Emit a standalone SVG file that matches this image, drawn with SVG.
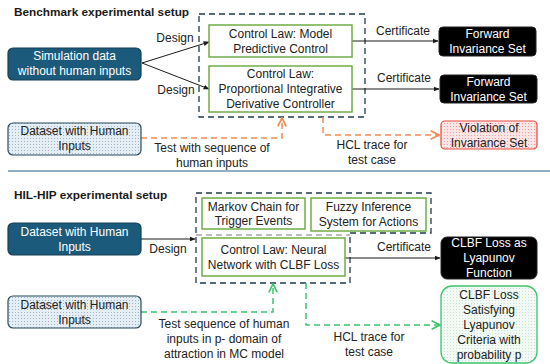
<svg xmlns="http://www.w3.org/2000/svg" width="550" height="364" viewBox="0 0 550 364">
  <style>
    text { font-family: "Liberation Sans", Arial, sans-serif; font-size: 12px; fill: #222; text-anchor: middle; }
    .title { font-weight: bold; font-size: 11.8px; fill: #1a1a1a; text-anchor: start; }
    .wt { fill: #ffffff; }
    .dark { fill: #1b5a7a; stroke: #163f55; stroke-width: 1.2; }
    .black { fill: #000000; stroke: #222; stroke-width: 1; }
    .law { fill: #ffffff; stroke: #70ad47; stroke-width: 1.5; }
    .dotted { fill: url(#dotsBlue); stroke: #2a4a5e; stroke-width: 1.2; }
    .frame { fill: none; stroke: #1f3b4d; stroke-width: 1.3; stroke-dasharray: 6 4; }
    .solid { fill: none; stroke: #1a1a1a; stroke-width: 1; }
    .orange { fill: none; stroke: #f08a50; stroke-width: 1.5; stroke-dasharray: 6 4; }
    .green { fill: none; stroke: #3ec46e; stroke-width: 1.5; stroke-dasharray: 6 4; }
  </style>
  <defs>
    <pattern id="dotsBlue" width="3" height="3" patternUnits="userSpaceOnUse">
      <rect width="3" height="3" fill="#e4eef4"/>
      <rect width="1" height="1" fill="#9fb4c2"/>
    </pattern>
    <pattern id="dotsRed" width="3" height="3" patternUnits="userSpaceOnUse">
      <rect width="3" height="3" fill="#fbe5e5"/>
      <rect width="1" height="1" fill="#f2a0a0"/>
    </pattern>
    <pattern id="dotsGreen" width="3" height="3" patternUnits="userSpaceOnUse">
      <rect width="3" height="3" fill="#f3faf5"/>
      <rect width="1" height="1" fill="#c6e4cf"/>
    </pattern>
    <marker id="arrBlack" viewBox="0 0 10 10" refX="9" refY="5" markerWidth="6" markerHeight="6" orient="auto">
      <path d="M0,1 L10,5 L0,9 z" fill="#1a1a1a"/>
    </marker>
    <marker id="arrOrange" viewBox="0 0 10 10" refX="8" refY="5" markerWidth="7" markerHeight="7" orient="auto">
      <path d="M1,1 L9,5 L1,9" fill="none" stroke="#f08a50" stroke-width="1.6"/>
    </marker>
    <marker id="arrGreen" viewBox="0 0 10 10" refX="8" refY="5" markerWidth="7" markerHeight="7" orient="auto">
      <path d="M1,1 L9,5 L1,9" fill="none" stroke="#3ec46e" stroke-width="1.6"/>
    </marker>
  </defs>

  <rect width="550" height="364" fill="#ffffff"/>

  <!-- Benchmark section -->
  <text class="title" x="14" y="16">Benchmark experimental setup</text>
  <rect class="frame" x="199" y="14" width="166" height="103"/>

  <!-- HIL-HIP section -->
  <line x1="8" y1="171" x2="550" y2="171" stroke="#8fb0c2" stroke-width="2"/>
  <text class="title" x="14" y="199">HIL-HIP experimental setup</text>
  <path class="frame" d="M196,193 H431 V233 H350 V283 H196 Z"/>
  <line x1="196" y1="235" x2="350" y2="235" stroke="#a8a8a8" stroke-width="1.3" stroke-dasharray="6 4"/>

  <!-- connectors -->
  <g id="connectors">
    <line class="solid" x1="142" y1="63" x2="209" y2="42" marker-end="url(#arrBlack)"/>
    <line class="solid" x1="142" y1="63" x2="209" y2="89" marker-end="url(#arrBlack)"/>
    <text x="175" y="42">Design</text>
    <text x="176" y="94">Design</text>

    <line class="solid" x1="352" y1="41" x2="438" y2="41" marker-end="url(#arrBlack)"/>
    <text x="403" y="35">Certificate</text>
    <line class="solid" x1="352" y1="89" x2="439" y2="89" marker-end="url(#arrBlack)"/>
    <text x="404" y="82">Certificate</text>

    <path class="orange" d="M141,138 H282 V119" marker-end="url(#arrOrange)"/>
    <text x="212" y="152">Test with sequence of</text>
    <text x="212" y="167">human inputs</text>

    <path class="orange" d="M323,117 V135 H438" marker-end="url(#arrOrange)"/>
    <text x="372" y="149">HCL trace for</text>
    <text x="372" y="164">test case</text>

    <line class="solid" x1="141" y1="239" x2="195" y2="239" marker-end="url(#arrBlack)"/>
    <text x="168" y="253">Design</text>

    <line class="solid" x1="345" y1="258" x2="440" y2="258" marker-end="url(#arrBlack)"/>
    <text x="404" y="251">Certificate</text>

    <path class="green" d="M141,312 H273 V285" marker-end="url(#arrGreen)"/>
    <text x="224" y="328">Test sequence of human</text>
    <text x="224" y="343">inputs in p- domain of</text>
    <text x="224" y="358">attraction in MC model</text>

    <path class="green" d="M306,283 V325 H439" marker-end="url(#arrGreen)"/>
    <text x="369" y="341">HCL trace for</text>
    <text x="369" y="356">test case</text>
  </g>

  <!-- nodes: benchmark -->
  <g id="sim-data">
    <rect class="dark" x="8" y="48" width="133" height="32" rx="5"/>
    <text class="wt" x="74.5" y="60">Simulation data</text>
    <text class="wt" x="74.5" y="75">without human inputs</text>
  </g>
  <g id="mpc">
    <rect class="law" x="209" y="25" width="143" height="32"/>
    <text x="280.5" y="38">Control Law: Model</text>
    <text x="280.5" y="53">Predictive Control</text>
  </g>
  <g id="pid">
    <rect class="law" x="209" y="66" width="143" height="46"/>
    <text x="280.5" y="78">Control Law:</text>
    <text x="280.5" y="93">Proportional Integrative</text>
    <text x="280.5" y="108">Derivative Controller</text>
  </g>
  <g id="human-data-1">
    <rect class="dotted" x="8" y="123" width="133" height="32" rx="5"/>
    <text x="74.5" y="135">Dataset with Human</text>
    <text x="74.5" y="150">Inputs</text>
  </g>
  <g id="fis-1">
    <rect class="black" x="439" y="27" width="97" height="29" rx="4"/>
    <text class="wt" x="487.5" y="38">Forward</text>
    <text class="wt" x="487.5" y="53">Invariance Set</text>
  </g>
  <g id="fis-2">
    <rect class="black" x="440" y="75" width="97" height="28" rx="4"/>
    <text class="wt" x="488.5" y="86">Forward</text>
    <text class="wt" x="488.5" y="101">Invariance Set</text>
  </g>
  <g id="violation">
    <rect x="441" y="121" width="96" height="28" rx="4" fill="url(#dotsRed)" stroke="#e8463a" stroke-width="1.2"/>
    <text x="489" y="132">Violation of</text>
    <text x="489" y="147">Invariance Set</text>
  </g>

  <!-- nodes: HIL-HIP -->
  <g id="human-data-design">
    <rect class="dark" x="8" y="223" width="133" height="32" rx="5"/>
    <text class="wt" x="74.5" y="236">Dataset with Human</text>
    <text class="wt" x="74.5" y="251">Inputs</text>
  </g>
  <g id="markov">
    <rect class="law" x="202" y="198" width="103" height="31"/>
    <text x="253.5" y="211">Markov Chain for</text>
    <text x="253.5" y="225">Trigger Events</text>
  </g>
  <g id="fuzzy">
    <rect class="law" x="311" y="198" width="115" height="33"/>
    <text x="368.5" y="211">Fuzzy Inference</text>
    <text x="368.5" y="226">System for Actions</text>
  </g>
  <g id="neural">
    <rect class="law" x="202" y="238" width="143" height="38"/>
    <text x="273.5" y="254">Control Law: Neural</text>
    <text x="273.5" y="269">Network with CLBF Loss</text>
  </g>
  <g id="human-data-2">
    <rect class="dotted" x="8" y="296" width="133" height="32" rx="5"/>
    <text x="74.5" y="309">Dataset with Human</text>
    <text x="74.5" y="324">Inputs</text>
  </g>
  <g id="clbf-lyapunov">
    <rect class="black" x="441" y="237" width="96" height="42" rx="6"/>
    <text class="wt" x="489" y="247">CLBF Loss as</text>
    <text class="wt" x="489" y="262">Lyapunov</text>
    <text class="wt" x="489" y="277">Function</text>
  </g>
  <g id="clbf-probability">
    <rect x="441" y="286" width="96" height="77" rx="11" fill="url(#dotsGreen)" stroke="#3ec46e" stroke-width="1.3"/>
    <text x="489" y="299">CLBF Loss</text>
    <text x="489" y="314">Satisfying</text>
    <text x="489" y="329">Lyapunov</text>
    <text x="489" y="344">Criteria with</text>
    <text x="489" y="359">probability p</text>
  </g>
</svg>
